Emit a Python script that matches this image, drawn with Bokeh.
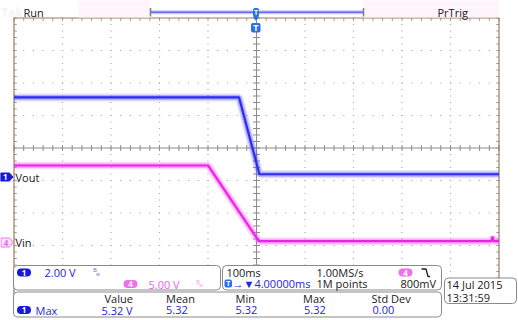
import numpy as np
from bokeh.plotting import figure
from bokeh.models import Range1d
from bokeh.embed import file_html
from bokeh.resources import INLINE
from bokeh.core.properties import value

# ---------------- data ----------------
time_per_div = 100.0          # ms/div
ch1_scale = 2.00              # V/div  (Vout)
ch4_scale = 5.00              # V/div  (Vin)
ch1_t = [-500, -36, 6, 500]   # ms
ch1_v = [4.90, 4.90, 0.17, 0.17]
ch4_t = [-500, -100, 5, 484, 487, 489, 500]  # ms
ch4_v = [11.85, 11.85, 0.20, 0.20, 0.9, 0.20, 0.20]
meas_headers = ["Value", "Mean", "Min", "Max", "Std Dev"]
meas_values = ["5.32 V", "5.32", "5.32", "5.32", "0.00"]

# ---------------- screen geometry ----------------
W, H = 518, 320
GX0, GX1 = 13.5, 498.5
GYT = 17.5
DIVX = (GX1 - GX0) / 10.0
DIVY = 32.5
CX = (GX0 + GX1) / 2.0
CY = GYT + 4 * DIVY


def X(px):
    return (px - CX) / DIVX * time_per_div


def Y(py):
    return (CY - py) / DIVY


ch1_pos = Y(176.5)
ch4_pos = Y(242.0)

p = figure(width=W, height=H, x_range=Range1d(X(0), X(W)), y_range=Range1d(Y(H), Y(0)),
           x_axis_type=None, y_axis_type=None, output_backend="svg",
           toolbar_location=None, min_border=0, outline_line_color=None,
           background_fill_color="white", border_fill_color="white")
p.extra_y_ranges = {
    "ch1": Range1d((Y(H) - ch1_pos) * ch1_scale, (Y(0) - ch1_pos) * ch1_scale),
    "ch4": Range1d((Y(H) - ch4_pos) * ch4_scale, (Y(0) - ch4_pos) * ch4_scale),
}

# ---------------- graticule ----------------
xt = np.array([-400, -300, -200, -100, 100, 200, 300, 400], dtype=float)
yt = np.array([-3, -2, -1, 1, 2, 3], dtype=float)
mx = np.arange(-500, 500.01, 20.0)
my = np.arange(-4, 4.001, 0.2)
dx, dy = np.meshgrid(xt, my)
hx_, hy_ = np.meshgrid(mx, yt)
gxs = np.concatenate([dx.ravel(), hx_.ravel()])
gys = np.concatenate([dy.ravel(), hy_.ravel()])
p.rect(x=gxs, y=gys, width=1.2, height=1.2, width_units="screen", height_units="screen",
       fill_color="#a8a8a8", line_color=None)

# center cross
p.segment(x0=[-500, 0], y0=[0, -4], x1=[500, 0], y1=[0, 4], line_color="#8c8c8c", line_width=1)
tlx = 3.5 / DIVX * time_per_div
tly = 3.0 / DIVY
p.segment(x0=mx, y0=np.full_like(mx, -tly), x1=mx, y1=np.full_like(mx, tly), line_color="#8c8c8c")
p.segment(x0=np.full_like(my, -tlx), y0=my, x1=np.full_like(my, tlx), y1=my, line_color="#8c8c8c")
p.segment(x0=mx, y0=np.full_like(mx, 4), x1=mx, y1=np.full_like(mx, 4 - tly), line_color="#a0a0a0")
p.segment(x0=np.full_like(my, -500), y0=my, x1=np.full_like(my, -500 + tlx * 0.8), y1=my, line_color="#a0a0a0")
p.segment(x0=np.full_like(my, 500), y0=my, x1=np.full_like(my, 500 - tlx * 0.8), y1=my, line_color="#a0a0a0")
# border
p.line(x=[-500, -500, 500, 500], y=[-4.6, 4, 4, -4.6], line_color="#9a7b5a", line_width=1.2)

# ---------------- waveforms ----------------
for w, a in [(8, 0.18), (5, 0.35)]:
    p.line(ch1_t, ch1_v, y_range_name="ch1", line_color="#5050f0", line_width=w, line_alpha=a)
    p.line(ch4_t, ch4_v, y_range_name="ch4", line_color="#f050ec", line_width=w, line_alpha=a)
p.line(ch1_t, ch1_v, y_range_name="ch1", line_color="#2c2cf0", line_width=2.2)
p.line(ch4_t, ch4_v, y_range_name="ch4", line_color="#ee22e6", line_width=2.2)

FONT = value("Open Sans")


def txt(items, color, size="11px", style="normal", align="left", font=FONT):
    p.text(x=[X(a) for a, b, c in items], y=[Y(b) for a, b, c in items],
           text=[c for a, b, c in items], text_color=color, text_font=font,
           text_font_size=size, text_font_style=style, text_baseline="middle",
           text_align=align)


def box(l, r, t, b, fill="white", line="#8a8a8a", rad=4, lw=1):
    p.quad(left=[X(l)], right=[X(r)], top=[Y(t)], bottom=[Y(b)], fill_color=fill,
           line_color=line, line_width=lw, border_radius=rad)


# ---------------- top bar ----------------
box(78, 150, -2, 17, fill="#fdf4fc", line=None, rad=0)
box(363, 498, -2, 17, fill="#fdf4fc", line=None, rad=0)
p.line(x=[X(150), X(363)], y=[Y(11.7), Y(11.7)], line_color="#c8c8f8", line_width=4)
p.line(x=[X(150), X(363)], y=[Y(11.7), Y(11.7)], line_color="#6a6aee", line_width=1.5)
p.segment(x0=[X(150), X(363)], y0=[Y(7.5), Y(7.5)], x1=[X(150), X(363)], y1=[Y(16), Y(16)],
          line_color="#808080", line_width=1.5)
txt([(1, 11.5, "Tek")], "#f3f3fb", size="12px", style="bold")
txt([(23, 11.5, "Run"), (437, 11.5, "PrTrig")], "#202020")

# trigger markers
box(252.5, 258.5, 7.5, 16.5, fill="#2a6ef0", line=None, rad=2)
p.patch(x=[X(252.5), X(258.5), X(255.5)], y=[Y(16), Y(16), Y(20.5)], fill_color="#2a6ef0", line_color=None)
txt([(255.5, 11.8, "T")], "white", size="7px", style="bold", align="center")
box(250.5, 260, 22.5, 32, fill="#2a6ef0", line=None, rad=2)
txt([(255.3, 27.3, "T")], "white", size="9px", style="bold", align="center")

# ---------------- channel markers ----------------
p.patch(x=[X(v) for v in [0, 9, 12.5, 9, 0]], y=[Y(v) for v in [172.5, 172.5, 176.5, 180.5, 180.5]],
        fill_color="#1818d8", line_color="#1818d8")
txt([(4.8, 176.5, "1")], "white", size="8px", style="bold", align="center")
txt([(15, 177, "Vout")], "#202020")
p.patch(x=[X(v) for v in [0.5, 9, 12.5, 9, 0.5]], y=[Y(v) for v in [237.5, 237.5, 242, 246.5, 246.5]],
        fill_color="#fde6fb", line_color="#f070ec")
txt([(5.5, 242, "4")], "#f060ec", size="8px", style="bold", align="center")
txt([(15, 242, "Vin")], "#202020")

# ---------------- bottom panels ----------------
BLUE = "#2424d8"
PINK = "#f05cf0"
box(13, 220, 265, 289.5)
box(222, 441, 265, 289.5)
box(444, 516, 277.5, 303)
box(13, 441, 291.5, 316.5)

box(16.5, 30.5, 268, 276, fill="#1818d8", line=None, rad=4)
txt([(23.5, 272, "1")], "white", size="8px", style="bold", align="center")
txt([(44, 272, "2.00 V")], BLUE)
txt([(92.5, 269.5, "B")], "#6a6aee", size="6px")
txt([(95.5, 273, "w")], "#6a6aee", size="5px")
box(123, 137, 279.5, 287.5, fill="#f070ec", line=None, rad=4)
txt([(130, 283.5, "4")], "white", size="8px", style="bold", align="center")
txt([(148, 283.5, "5.00 V")], PINK)
txt([(195.5, 281, "B")], "#f09cf0", size="6px")
txt([(198.5, 284.5, "w")], "#f09cf0", size="5px")

txt([(226, 272, "100ms"), (316, 272, "1.00MS/s"), (316, 283, "1M points"), (400, 283, "800mV")], "#202020")
box(398, 412, 268, 276, fill="#f070ec", line=None, rad=4)
txt([(405, 272, "4")], "white", size="8px", style="bold", align="center")
p.line(x=[X(421), X(425.5), X(427.5), X(429.5)], y=[Y(268.5), Y(268.5), Y(276), Y(276)],
       line_color="#202020", line_width=1.3)
box(224, 231.5, 279, 287, fill="#2a6ef0", line=None, rad=2)
txt([(227.7, 283.2, "T")], "white", size="7px", style="bold", align="center")
txt([(232, 283, "\u2192\u25bc4.00000ms")], BLUE)

txt([(446, 284, "14 Jul  2015"), (446, 296.5, "13:31:59")], "#202020")

hx = [104, 165.5, 235, 302.5, 371]
txt([(hx[i], 298, meas_headers[i]) for i in range(5)], "#202020")
vx = [101, 165.5, 235, 303.5, 372]
txt([(vx[i], 309.5, meas_values[i]) for i in range(5)], BLUE)
box(16.5, 30.5, 305.5, 313.5, fill="#1818d8", line=None, rad=4)
txt([(23.5, 309.5, "1")], "white", size="8px", style="bold", align="center")
txt([(35, 309.5, "Max")], BLUE)

open("out.html", "w").write(file_html(p, INLINE))
